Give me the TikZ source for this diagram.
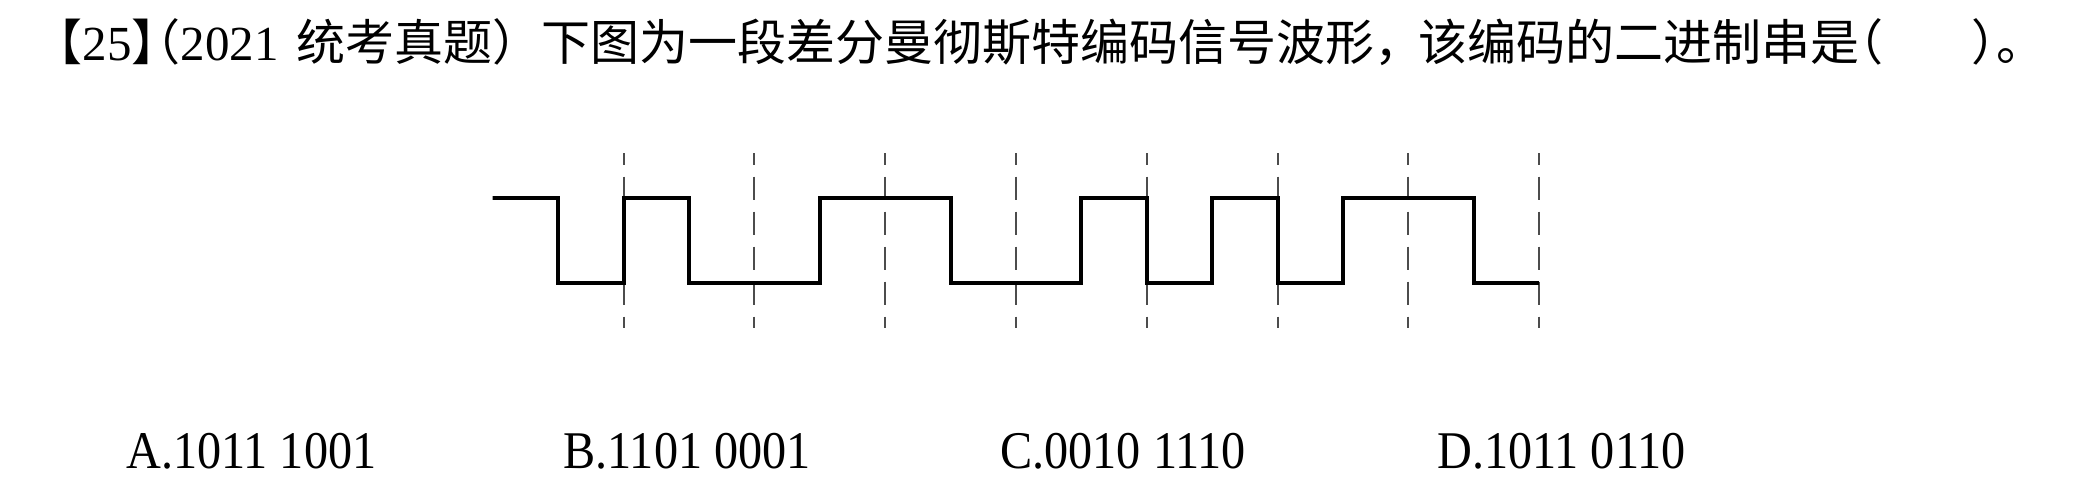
\documentclass[tikz,border=0pt]{standalone}
\usepackage{fontspec}
\setmainfont{Liberation Serif}
\newfontfamily\cjk{Noto Sans CJK SC}
\newfontfamily\cjkh[RawFeature=+halt]{Noto Sans CJK SC}
\newfontfamily\optfont[FakeStretch=0.91]{Liberation Serif}
\usetikzlibrary{positioning}

\begin{document}
\begin{tikzpicture}[
x=0.5pt,
y=-0.5pt,
wave/.style={
  line width=2pt,
  line join=miter
  },
bitline/.style={
  line width=1pt,
  draw=black!70,
  dash pattern=on 11.5pt off 6pt,
  dash phase=5.75pt
  },
question/.style={
  anchor=base west,
  inner sep=0pt,
  font=\fontsize{24.5}{30}\selectfont
  },
opt/.style={
  anchor=base west,
  inner sep=0pt,
  font=\optfont\fontsize{26.5}{32}\selectfont
  }
]
\useasboundingbox (0,0) rectangle (2081,488);

\node[question] (title) at (58,60)
  {{\cjkh 【}25{\cjkh 】（}2021\hspace{0.35em}{\cjk 统考真题）下图为一段差分曼彻斯特编码信号波形}{\cjkh ，}\hspace{0.4em}{\cjk 该编码的二进制串是}{\cjkh （}\hspace{1.8em}{\cjkh ）。}};

\foreach \k in {0,...,7}
  \draw[bitline] ({623.5+130.8*\k},153) -- ++(0,175);

\draw[wave] (493,198)
  foreach \lv [count=\k from 0] in {1,0,1,0,0,1,1,0,0,1,0,1,0,1,1,0}
  { -- ({492.7+65.4*\k},{283-85*\lv}) -- ({492.7+65.4*(\k+1)},{283-85*\lv}) };

\foreach \lab/\bits [count=\i from 0] in {A/1011 1001,B/1101 0001,C/0010 1110,D/1011 0110}
  \node[opt] (opt\lab) at ({126+437*\i},468) {\lab.\bits};

\end{tikzpicture}
\end{document}
